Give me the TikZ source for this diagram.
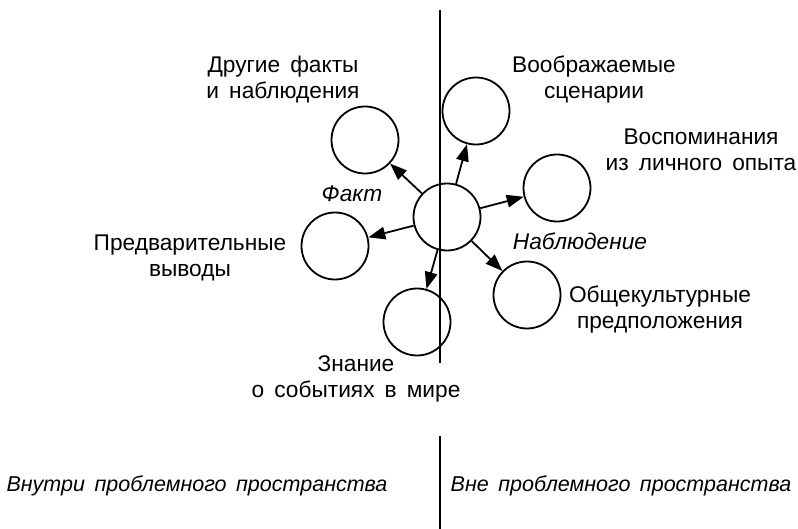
\documentclass[tikz,border=0pt]{standalone}
\usepackage{fontspec}
\setmainfont[WordSpace=1.6]{Liberation Sans}
\usetikzlibrary{arrows.meta}
\begin{document}
\begin{tikzpicture}[x=1pt,y=-1pt,
  circ/.style={circle,draw,line width=1.8pt,minimum size=67pt,inner sep=0pt},
  arr/.style={line width=1.8pt,-{Triangle[length=17pt,width=12.5pt]}},
  sep/.style={line width=2.2pt},
  lbl/.style={anchor=base,align=center,inner sep=0pt,font=\fontsize{22.7}{26}\selectfont},
  ilbl/.style={lbl,font=\fontsize{22.7}{26}\selectfont\itshape},
  blbl/.style={lbl,font=\fontsize{21.5}{26}\selectfont\itshape}]
\useasboundingbox (0,0) rectangle (798,529);
% dividing line
\coordinate (t1) at (440,10);
\coordinate (b1) at (440,363);
\coordinate (t2) at (440,436);
\coordinate (b2) at (440,529);
\draw[sep] (t1) -- (b1);
\draw[sep] (t2) -- (b2);
% circles
\node[circ] (C) at (447,217) {};
\node[circ] (D) at (365,140) {};
\node[circ] (V) at (476,111) {};
\node[circ] (M) at (557,188) {};
\node[circ] (O) at (527,295) {};
\node[circ] (P) at (335,246) {};
\node[circ] (Z) at (417,322) {};
% arrows
\foreach \t in {D,V,M,O,P,Z} \draw[arr] (C) -- (\t);
% labels (base anchor = baseline of last line)
\node[lbl] (lD) at (283,99) {Другие факты\\и наблюдения};
\node[lbl] (lV) at (594,99) {Воображаемые\\сценарии};
\node[lbl] (lM) at (701,171) {Воспоминания\\из личного опыта};
\node[ilbl] (lN) at (580,250) {Наблюдение};
\node[lbl] (lO) at (660,329) {Общекультурные\\предположения};
\node[ilbl] (lF) at (352,202) {Факт};
\node[lbl] (lP) at (190,277) {Предварительные\\выводы};
\node[lbl] (lZ) at (356,397) {Знание\\о событиях в мире};
\node[blbl] (lIn) at (197,491) {Внутри проблемного пространства};
\node[blbl] (lOut) at (621,491) {Вне проблемного пространства};
\end{tikzpicture}
\end{document}
